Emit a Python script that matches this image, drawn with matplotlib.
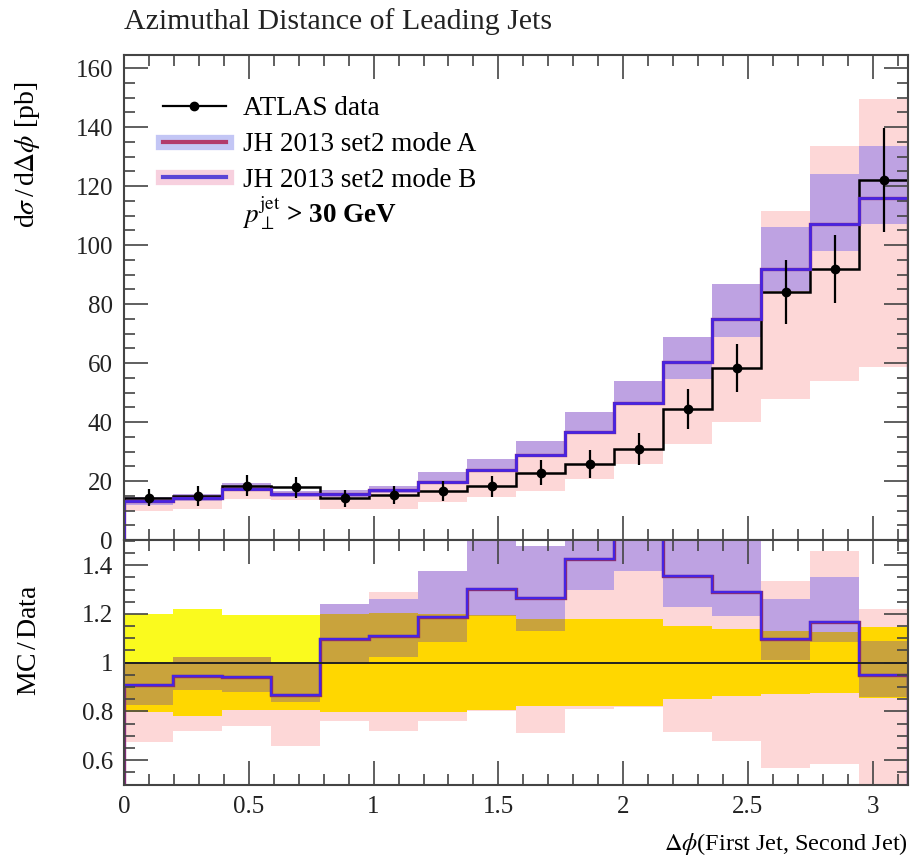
import numpy as np
import matplotlib.pyplot as plt
from matplotlib.lines import Line2D
from matplotlib.ticker import MultipleLocator

plt.rcParams['font.family'] = ['Liberation Serif', 'DejaVu Serif']
plt.rcParams['mathtext.fontset'] = 'stix'

# 16 bins in delta phi, 0..pi
edges = np.linspace(0, np.pi, 17)

# ATLAS data
data = [14.4, 15.0, 18.4, 17.9, 14.2, 15.3, 16.7, 18.3,
        22.9, 25.8, 30.8, 44.4, 58.3, 84.0, 91.9, 122.0]
data_err = [2.9, 3.3, 3.6, 3.5, 2.85, 3.1, 3.35, 3.55,
            4.1, 4.6, 5.5, 6.7, 8.0, 10.8, 11.5, 17.7]

# JH 2013 set2 central value (mode A and mode B lie on top of each other)
mc = [13.1, 14.2, 17.3, 15.5, 15.6, 17.0, 19.8, 23.8,
      29.0, 36.8, 46.6, 60.2, 75.1, 92.0, 107.3, 116.0]

# upper panel uncertainty bands
top_a_lo = [12.0, 13.3, 16.5, 14.7, 14.5, 16.0, 19.6, 23.5,
            29.2, 36.8, 46.6, 54.6, 68.8, 84.4, 98.0, 107.0]
top_a_hi = [14.6, 15.6, 19.2, 16.5, 17.0, 18.4, 23.0, 27.5,
            33.7, 43.4, 53.9, 68.8, 86.8, 106.0, 124.0, 133.6]
top_b_lo = [9.9, 10.5, 13.9, 13.5, 10.5, 10.5, 12.9, 14.6,
            16.7, 20.7, 25.8, 32.5, 40.0, 47.7, 53.8, 58.6]
top_b_hi = [14.5, 15.0, 18.0, 16.5, 15.0, 16.5, 19.6, 23.5,
            29.2, 36.8, 46.6, 54.6, 68.8, 111.5, 133.6, 149.5]

# ratio panel uncertainty bands
rat_a_lo = [0.826, 0.888, 0.88, 0.84, 1.0, 1.025, 1.083, 1.19,
            1.128, 1.30, 1.376, 1.227, 1.19, 1.01, 1.083, 0.86]
rat_a_hi = [1.0, 1.025, 1.025, 1.0, 1.24, 1.26, 1.376, 1.6,
            1.48, 1.6, 1.6, 1.6, 1.6, 1.26, 1.35, 1.087]
rat_b_lo = [0.674, 0.72, 0.74, 0.66, 0.76, 0.72, 0.76, 0.80,
            0.71, 0.81, 0.818, 0.715, 0.68, 0.566, 0.585, 0.48]
rat_b_hi = [1.0, 1.0, 1.0, 1.0, 1.2, 1.29, 1.3, 1.3,
            1.3, 1.30, 1.376, 1.3, 1.3, 1.335, 1.46, 1.22]

pink = '#fdd7d7'
purple = '#bea2e2'
yellow = '#fafa1e'
gold = '#ffd700'
olive = '#c9a33c'
line_a = '#8a2c70'
line_b = '#4624e4'

data = np.array(data)
data_err = np.array(data_err)
mc = np.array(mc)
w = np.diff(edges)
centers = 0.5 * (edges[:-1] + edges[1:])

fig = plt.figure(figsize=(9.14, 8.6), dpi=100)
ax = fig.add_axes([0.1357, 0.372, 0.8578, 0.564])
ax2 = fig.add_axes([0.1357, 0.0872, 0.8578, 0.2848], sharex=ax)

# --- upper panel
lo, hi = np.array(top_b_lo), np.array(top_b_hi)
ax.bar(edges[:-1], hi - lo, bottom=lo, width=w, align='edge', color=pink, lw=0)
lo, hi = np.array(top_a_lo), np.array(top_a_hi)
ax.bar(edges[:-1], hi - lo, bottom=lo, width=w, align='edge', color=purple, lw=0)
ax.stairs(data, edges, color='k', lw=1.8)
ax.stairs(mc, edges, color=line_a, lw=2.4)
ax.stairs(mc, edges, color=line_b, lw=1.9)
ax.errorbar(centers, data, yerr=data_err, fmt='o', color='k', ms=6,
            elinewidth=1.6, capsize=0)

ax.set_xlim(0, np.pi)
ax.set_ylim(0, 164.4)
ax.yaxis.set_major_locator(MultipleLocator(20))
ax.yaxis.set_minor_locator(MultipleLocator(5))
ax.tick_params(labelbottom=False)
ax.set_ylabel(r'd$\sigma\,$/$\,$d$\Delta\phi$ [pb]', fontsize=20)
ax.yaxis.set_label_coords(-0.104, 0.795)

h_data = Line2D([], [], color='k', marker='o', ms=6, lw=1.6)
h_a = (Line2D([], [], color='#c3c6f5', lw=11), Line2D([], [], color='#b23a6b', lw=3))
h_b = (Line2D([], [], color='#f7d0de', lw=11), Line2D([], [], color='#5b45d6', lw=3))
leg = ax.legend([h_data, h_a, h_b],
                ['ATLAS data', 'JH 2013 set2 mode A', 'JH 2013 set2 mode B'],
                loc='upper left', bbox_to_anchor=(0.05, 0.915), frameon=False,
                fontsize=19.5, handlelength=2.3, handletextpad=0.63,
                labelspacing=0.4, borderpad=0, borderaxespad=0)
ax.text(0.15, 0.673, r'$p_{\perp}^{\mathrm{jet}}$ > 30 GeV', transform=ax.transAxes,
        fontsize=19.5, fontweight='bold', va='center', ha='left')

# --- ratio panel
ratio = mc / data
ylo = 1 - data_err / data
yhi = 1 + data_err / data
blo, bhi = np.array(rat_b_lo), np.array(rat_b_hi)
alo, ahi = np.array(rat_a_lo), np.array(rat_a_hi)
ax2.bar(edges[:-1], bhi - blo, bottom=blo, width=w, align='edge', color=pink, lw=0)
ax2.bar(edges[:-1], ahi - alo, bottom=alo, width=w, align='edge', color=purple, lw=0)
ax2.bar(edges[:-1], yhi - ylo, bottom=ylo, width=w, align='edge', color=yellow, lw=0)
# yellow seen through the pink band
lo = np.maximum(ylo, blo)
hi = np.minimum(yhi, bhi)
ax2.bar(edges[:-1], np.clip(hi - lo, 0, None), bottom=lo, width=w, align='edge',
        color=gold, lw=0)
# yellow seen through the purple band
lo = np.maximum(ylo, alo)
hi = np.minimum(yhi, ahi)
ax2.bar(edges[:-1], np.clip(hi - lo, 0, None), bottom=lo, width=w, align='edge',
        color=olive, lw=0)
ax2.axhline(1, color='#222222', lw=1.4)
ax2.stairs(ratio, edges, color=line_a, lw=2.4)
ax2.stairs(ratio, edges, color=line_b, lw=1.6)

ax2.set_ylim(0.498, 1.503)
ax2.yaxis.set_minor_locator(MultipleLocator(0.05))
ax2.set_yticks([0.6, 0.8, 1.0, 1.2, 1.4])
ax2.set_yticklabels(['0.6', '0.8', '1', '1.2', '1.4'])
ax2.xaxis.set_minor_locator(MultipleLocator(0.1))
ax2.set_xticks([0, 0.5, 1, 1.5, 2, 2.5, 3])
ax2.set_xticklabels(['0', '0.5', '1', '1.5', '2', '2.5', '3'])
ax2.set_ylabel('MC$\\,$/$\\,$Data', fontsize=20)
ax2.yaxis.set_label_coords(-0.104, 0.59)
ax2.set_xlabel(r'$\Delta\phi$(First Jet, Second Jet)', fontsize=17.5, loc='right',
               labelpad=9)

for a in (ax, ax2):
    a.tick_params(which='both', direction='in', top=True, right=True,
                  width=1.2, color='#444444', labelsize=18, labelcolor='#222222')
    a.tick_params(which='major', length=17, pad=8)
    a.tick_params(which='minor', length=8)
    for s in a.spines.values():
        s.set_color('#444444')
        s.set_linewidth(1.5)

fig.text(0.1357, 1 - 22 / 860, 'Azimuthal Distance of Leading Jets',
         fontsize=21.5, ha='left', va='center', color='#222222')

fig.savefig('out.png', dpi=100)
